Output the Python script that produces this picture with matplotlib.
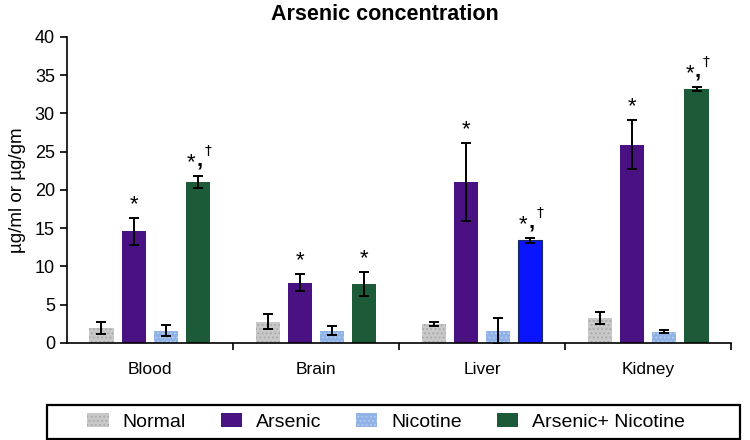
import matplotlib.pyplot as plt
from matplotlib.patches import Rectangle
import numpy as np

organs = ['Blood', 'Brain', 'Liver', 'Kidney']
groups = ['Normal', 'Arsenic', 'Nicotine', 'Arsenic+ Nicotine']

normal = [2.0, 2.8, 2.5, 3.3]
arsenic = [14.6, 7.9, 21.1, 25.9]
nicotine = [1.6, 1.6, 1.6, 1.5]
ars_nic = [21.0, 7.7, 13.4, 33.2]

normal_err = [0.8, 1.0, 0.3, 0.8]
arsenic_err = [1.8, 1.1, 5.1, 3.2]
nicotine_err = [0.7, 0.6, 1.7, 0.2]
ars_nic_err = [0.8, 1.6, 0.3, 0.2]

# significance marks above arsenic and arsenic+nicotine bars
arsenic_marks = ['*', '*', '*', '*']
ars_nic_marks = ['*,†', '*', '*,†', '*,†']

colors = ['#c8c8c8', '#4a1182', '#90b2e6', '#1d5a37']
hatch_colors = ['#a8a8a8', '#4a1182', '#b4cdf0', '#2a6a45']
hatches = ['....', None, '....', None]
liver_combo_color = '#0a14ff'

plt.rcParams['font.family'] = ['Liberation Sans', 'DejaVu Sans']
plt.rcParams['hatch.linewidth'] = 0.8

fig = plt.figure(figsize=(7.5, 4.4), dpi=100)
ax = fig.add_axes([0.089, 0.2205, 0.886, 0.6955])

x = np.arange(len(organs)) + 0.5
step = 0.194
width = 0.145
series = [normal, arsenic, nicotine, ars_nic]
errs = [normal_err, arsenic_err, nicotine_err, ars_nic_err]

bars_all = []
for i, (vals, err) in enumerate(zip(series, errs)):
    pos = x + (i - 1.5) * step
    bars = ax.bar(pos, vals, width, color=colors[i], label=groups[i],
                  edgecolor=hatch_colors[i], hatch=hatches[i],
                  linewidth=0, zorder=2)
    ax.errorbar(pos, vals, yerr=err, fmt='none', ecolor='black',
                elinewidth=1.4, capsize=3.5, capthick=1.4, zorder=3)
    bars_all.append(bars)

# the liver arsenic+nicotine bar is drawn in bright blue in the original
bars_all[3][2].set_facecolor(liver_combo_color)
bars_all[3][2].set_edgecolor('#1a2a60')
bars_all[3][2].set_linewidth(0.8)


def mark(pos, top, text):
    if text == '*':
        ax.annotate('*', (pos, top), xytext=(0, 2), textcoords='offset points',
                    ha='center', va='bottom', fontsize=16)
    else:
        ax.annotate('*', (pos, top), xytext=(-5, 2), textcoords='offset points',
                    ha='center', va='bottom', fontsize=16)
        ax.annotate(',', (pos, top), xytext=(1, 4), textcoords='offset points',
                    ha='center', va='bottom', fontsize=16, fontweight='bold')
        ax.annotate('†', (pos, top), xytext=(7, 13), textcoords='offset points',
                    ha='center', va='bottom', fontsize=10, family='DejaVu Sans')


for j in range(len(organs)):
    mark(x[j] - 0.5 * step, arsenic[j] + arsenic_err[j], arsenic_marks[j])
    mark(x[j] + 1.5 * step, ars_nic[j] + ars_nic_err[j], ars_nic_marks[j])

ax.set_xlim(0, 4)
ax.set_ylim(0, 40)
ax.set_yticks(np.arange(0, 41, 5))
ax.set_xticks(x)
ax.set_xticklabels(organs, fontsize=12.5)
ax.set_xticks(np.arange(1, 5), minor=True)
ax.tick_params(axis='x', which='major', length=0, pad=14)
ax.tick_params(axis='x', which='minor', length=5, width=1.2, direction='out')
ax.tick_params(axis='y', labelsize=13, length=5, width=1.2)
ax.spines['top'].set_visible(False)
ax.spines['right'].set_visible(False)
ax.spines['left'].set_linewidth(1.2)
ax.spines['bottom'].set_linewidth(1.2)
ax.set_ylabel('µg/ml or µg/gm', fontsize=13.5, labelpad=6)
ax.set_title('Arsenic concentration', fontsize=15.5, fontweight='bold',
             pad=12, x=0.479)

# legend frame drawn separately so its width can follow the original
fig.patches.append(Rectangle((47 / 750, 1 / 440), 693 / 750, 34 / 440,
                             transform=fig.transFigure, fill=False,
                             edgecolor='black', linewidth=1.6))
handles = []
for i, b in enumerate(bars_all):
    handles.append(Rectangle((0, 0), 1, 1, facecolor=colors[i],
                             edgecolor=hatch_colors[i], hatch=hatches[i],
                             linewidth=0))
fig.legend(handles=handles, labels=groups, ncol=4,
           loc='center', bbox_to_anchor=(386 / 750, 18 / 440),
           fontsize=14, frameon=False, handlelength=1.1, handleheight=0.75,
           handletextpad=0.7, columnspacing=1.8, borderaxespad=0)

fig.savefig('out.png', dpi=100)
